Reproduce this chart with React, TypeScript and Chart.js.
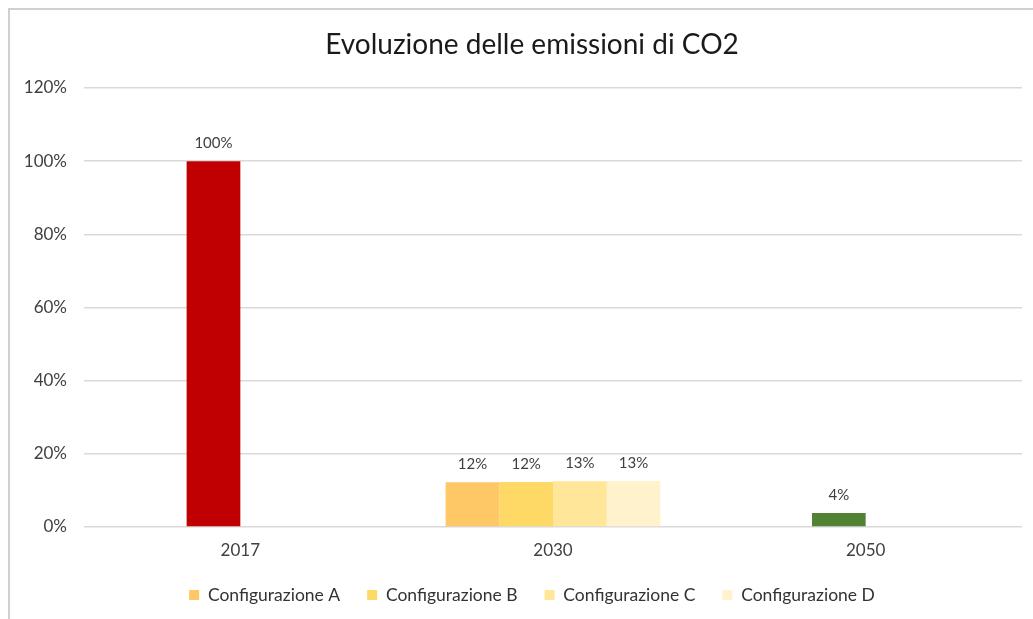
import React, { useEffect, useRef } from "react";
import { Chart, registerables } from "chart.js";

Chart.register(...registerables);

const categories = ["2017", "2030", "2050"];
const seriesNames = ["Configurazione A", "Configurazione B", "Configurazione C", "Configurazione D"];
const valuesA = [null, 0.122, null];
const valuesB = [1.0, 0.123, 0.038];
const valuesC = [null, 0.125, null];
const valuesD = [null, 0.126, null];
const seriesColors = ["#FEC866", "#FFD966", "#FFE699", "#FFF2CC"];
const pointColorsB = ["#C00000", "#FFD966", "#548235"];
const yTicks = [0, 0.2, 0.4, 0.6, 0.8, 1.0, 1.2];

const FONT = "Lato";

const framePlugin = {
  id: "frame",
  beforeDraw(chart: any) {
    const { ctx, width, height } = chart;
    ctx.save();
    ctx.fillStyle = "#ffffff";
    ctx.fillRect(0, 0, width, height);
    ctx.strokeStyle = "#d0d0d0";
    ctx.lineWidth = 2;
    ctx.beginPath();
    ctx.moveTo(9, height);
    ctx.lineTo(9, 9);
    ctx.lineTo(width, 9);
    ctx.stroke();
    ctx.restore();
  },
};

const valueLabelPlugin = {
  id: "valueLabels",
  afterDatasetsDraw(chart: any) {
    const { ctx } = chart;
    ctx.save();
    ctx.font = `15px ${FONT}`;
    ctx.fillStyle = "#404040";
    ctx.textAlign = "center";
    ctx.textBaseline = "middle";
    chart.data.datasets.forEach((ds: any, i: number) => {
      const meta = chart.getDatasetMeta(i);
      meta.data.forEach((el: any, j: number) => {
        const v = ds.data[j];
        if (v === null || v === undefined) return;
        ctx.fillText(Math.round(v * 100) + "%", el.x, el.y - 18);
      });
    });
    ctx.restore();
  },
};

export default function App() {
  const ref = useRef<HTMLCanvasElement | null>(null);
  useEffect(() => {
    document.body.style.margin = "0";
    const canvas = ref.current!;
    const datasets = [valuesA, valuesB, valuesC, valuesD].map((d, i) => ({
      label: seriesNames[i],
      data: d,
      backgroundColor: i === 1 ? pointColorsB : seriesColors[i],
      borderWidth: 0,
      categoryPercentage: 0.687,
      barPercentage: 1.0,
    }));
    const chart = new Chart(canvas, {
      type: "bar",
      data: { labels: categories, datasets },
      plugins: [framePlugin, valueLabelPlugin],
      options: {
        animation: false,
        responsive: false,
        maintainAspectRatio: false,
        layout: { padding: { left: 42, right: 11, top: 0, bottom: 5.25 } },
        plugins: {
          title: {
            display: true,
            text: "Evoluzione delle emissioni di CO2",
            color: "#1a1a1a",
            font: { family: FONT, size: 28, weight: "normal" },
            padding: { top: 28, bottom: 26.4 },
          },
          legend: {
            position: "bottom",
            labels: {
              boxWidth: 10,
              boxHeight: 10,
              padding: 27,
              color: "#333333",
              font: { family: FONT, size: 17.5 },
              generateLabels(chart: any) {
                return chart.data.datasets.map((ds: any, i: number) => ({
                  text: ds.label,
                  fillStyle: seriesColors[i],
                  strokeStyle: seriesColors[i],
                  lineWidth: 0,
                  hidden: false,
                  datasetIndex: i,
                  fontColor: "#333333",
                }));
              },
            },
          },
          tooltip: { enabled: false },
        },
        scales: {
          x: {
            afterFit(scale: any) {
              scale.height = 32.25;
            },
            grid: { display: false, drawTicks: false },
            border: { display: false },
            ticks: {
              color: "#404040",
              font: { family: FONT, size: 17 },
              padding: 13,
            },
          },
          y: {
            min: 0,
            max: 1.2,
            afterFit(scale: any) {
              scale.width = 42;
              scale._computeLabelArea = () => undefined;
            },
            afterBuildTicks(scale: any) {
              scale.ticks = yTicks.map((v) => ({ value: v }));
            },
            grid: { color: "#d9d9d9", lineWidth: 1.5, drawTicks: false },
            border: { display: false },
            ticks: {
              color: "#404040",
              font: { family: FONT, size: 17 },
              padding: 17,
              callback: (v: any) => Math.round(Number(v) * 100) + "%",
            },
          },
        },
      },
    });
    return () => chart.destroy();
  }, []);
  return (
    <div style={{ width: 1033, height: 619 }}>
      <canvas ref={ref} width={1033} height={619} style={{ display: "block" }} />
    </div>
  );
}
